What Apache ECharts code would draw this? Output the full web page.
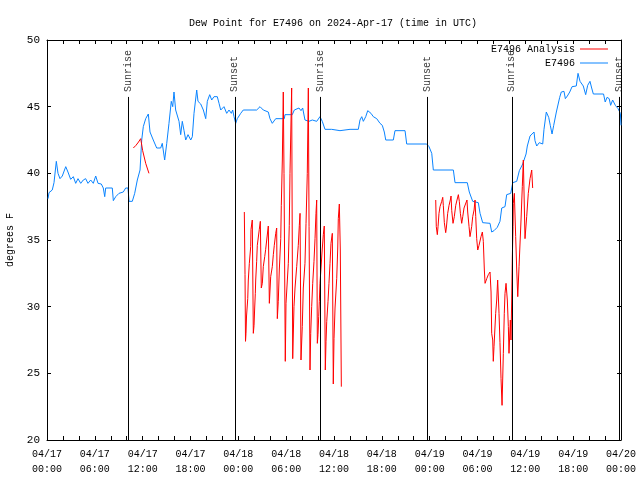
<!DOCTYPE html>
<html><head><meta charset="utf-8">
<script src="https://cdn.jsdelivr.net/npm/echarts@6/dist/echarts.min.js"></script>
<style>html,body{margin:0;padding:0;background:#fff}#c{width:640px;height:480px}</style>
</head><body><div id="c"></div>
<script>
const titleText = 'Dew Point for E7496 on 2024-Apr-17 (time in UTC)';
const yAxisName = 'degrees F';
const tickHours = [0, 6, 12, 18, 24, 30, 36, 42, 48, 54, 60, 66, 72];
const tickDays = ['04/17','04/17','04/17','04/17','04/18','04/18','04/18','04/18','04/19','04/19','04/19','04/19','04/20'];
const tickTimes = ['00:00','06:00','12:00','18:00','00:00','06:00','12:00','18:00','00:00','06:00','12:00','18:00','00:00'];

const sunHours = [10.16, 23.56, 34.3, 47.65, 58.3, 71.8];
const sunLabels = ['Sunrise', 'Sunset', 'Sunrise', 'Sunset', 'Sunrise', 'Sunset'];

// E7496 observations (hours since 04/17 00:00 UTC, degrees F)
const obsHours = [0.13,0.25,0.66,0.88,1.17,1.38,1.63,1.92,2.35,2.63,2.97,3.30,3.60,3.89,4.23,4.55,4.85,5.14,5.48,5.81,6.11,6.40,6.81,7.06,7.24,7.36,8.19,8.32,8.62,9.03,9.57,9.87,10.16,10.29,10.70,11.00,11.33,11.67,11.88,12.08,12.38,12.71,12.92,13.33,13.76,14.26,14.46,14.76,15.02,15.30,15.59,15.77,15.93,16.14,16.56,16.77,16.97,17.19,17.40,17.69,18.03,18.23,18.44,18.78,18.94,19.28,19.61,19.91,20.11,20.41,20.66,20.95,21.36,21.58,21.79,22.20,22.54,22.83,23.12,23.29,23.46,23.67,23.87,24.30,24.62,26.30,26.72,27.13,27.76,27.97,28.26,28.69,29.77,29.85,30.77,31.02,31.61,31.86,32.07,32.36,32.86,33.28,33.83,34.24,34.53,34.87,35.71,36.75,38.01,39.05,39.26,39.48,39.68,39.98,40.23,40.64,40.93,41.36,41.77,42.06,42.31,42.49,43.44,43.65,44.91,45.12,47.63,47.92,48.26,48.46,50.97,51.18,52.72,52.97,53.15,53.40,54.10,54.32,54.65,55.57,55.78,56.07,56.48,56.82,57.04,57.45,57.66,58.17,58.42,58.92,59.25,59.67,60.09,60.25,60.59,61.09,61.21,61.43,61.75,62.18,62.34,62.63,62.93,63.13,63.35,63.56,63.89,64.31,64.51,64.85,65.02,65.27,65.57,65.86,66.39,66.61,66.86,67.07,67.27,67.57,67.82,68.11,68.32,68.53,69.81,70.02,70.25,70.52,70.70,70.95,71.29,71.63,71.92,72.0];
const obsValues = [38.1,38.55,38.75,39.3,40.9,40.0,39.6,39.8,40.5,40.1,39.55,39.75,39.25,39.6,39.25,39.5,39.6,39.25,39.5,39.25,39.8,39.25,39.2,38.9,38.25,38.9,38.9,37.95,38.25,38.5,38.6,38.9,38.9,37.9,37.9,38.5,39.5,40.25,42.5,43.5,44.1,44.45,43.1,42.5,41.9,41.9,42.25,41.0,42.25,43.75,45.4,45.0,46.1,44.75,43.9,42.9,43.9,43.2,42.5,42.9,42.5,42.75,44.5,46.25,45.4,45.2,44.75,44.1,45.4,45.9,45.5,45.75,45.75,45.25,44.75,45.0,44.5,44.75,44.5,44.75,44.25,43.75,44.1,44.5,44.75,44.75,45.0,44.75,44.6,44.1,43.75,44.1,44.1,44.4,44.4,44.75,44.9,44.7,44.9,44.0,43.9,44.0,43.9,44.25,43.9,43.3,43.3,43.2,43.3,43.3,44.0,44.25,43.9,44.25,44.7,44.5,44.25,44.1,43.75,43.6,43.1,42.5,42.5,43.2,43.2,42.2,42.2,42.0,41.5,40.25,40.25,39.3,39.3,38.6,38.3,37.9,37.8,37.0,36.3,36.25,35.6,35.7,35.95,36.4,37.4,37.5,38.4,38.5,39.3,39.4,40.2,40.7,41.45,42.05,42.8,43.1,42.45,42.05,42.3,42.2,43.3,44.6,44.2,43.6,42.95,43.6,44.6,45.7,46.1,46.15,45.6,45.8,46.1,46.5,46.55,47.5,46.9,47.0,46.55,45.9,46.6,46.9,46.4,45.95,45.95,45.35,45.7,45.6,45.1,45.5,45.1,44.85,44.5,43.6];

// E7496 Analysis, three separate runs
const an1Hours = [10.83,11.16,11.48,11.75,12.00,12.38,12.79];
const an1Values = [41.9,42.1,42.35,42.6,41.7,40.75,40.0];
const an2Hours = [24.75,24.84,24.90,24.96,25.03,25.18,25.25,25.38,25.55,25.59,25.75,25.88,25.97,26.05,26.13,26.18,26.30,26.38,26.63,26.76,26.88,27.01,27.13,27.31,27.43,27.56,27.76,27.89,28.06,28.26,28.39,28.51,28.69,28.81,28.89,29.01,29.14,29.32,29.39,29.52,29.64,29.73,29.89,29.98,30.27,30.39,30.48,30.69,30.82,30.98,31.11,31.32,31.52,31.65,31.74,31.86,32.02,32.15,32.36,32.49,32.65,32.78,32.87,32.99,33.08,33.20,33.33,33.49,33.62,33.74,33.83,33.91,33.99,34.08,34.16,34.24,34.37,34.50,34.66,34.78,34.91,35.00,35.09,35.25,35.37,35.50,35.62,35.79,35.91,36.00,36.13,36.34,36.47,36.54,36.67,36.79,36.92];
const an2Values = [37.1,32.4,27.4,28.0,29.3,30.6,32.0,33.25,34.5,35.8,36.5,28.0,28.6,29.9,31.0,32.0,33.4,34.6,35.8,36.4,31.4,31.75,33.0,33.75,34.3,35.0,36.05,30.25,32.25,33.0,33.9,34.6,35.5,35.9,29.1,30.4,32.75,35.1,37.6,41.0,46.1,40.0,25.9,30.25,33.25,36.1,40.0,46.4,26.1,30.0,31.4,33.0,34.6,36.1,37.0,26.0,28.5,31.4,33.25,36.25,40.0,46.4,36.0,25.25,28.0,30.0,31.75,33.4,35.1,37.0,38.0,27.25,27.9,29.25,30.4,31.75,32.9,34.1,35.4,36.05,25.25,27.4,28.9,30.4,31.75,33.25,34.75,35.5,24.2,27.6,29.9,32.1,34.4,36.6,37.7,34.25,24.0];
const an3Hours = [48.76,48.83,48.96,49.05,49.17,49.30,49.51,49.64,49.71,49.84,50.01,50.09,50.26,50.43,50.59,50.68,50.77,50.93,51.09,51.27,51.43,51.60,51.72,51.85,52.02,52.15,52.31,52.52,52.68,52.77,52.94,53.06,53.27,53.40,53.57,53.69,53.78,53.90,54.03,54.19,54.44,54.61,54.73,54.86,54.95,55.16,55.36,55.57,55.70,55.78,55.91,55.98,56.07,56.28,56.41,56.53,56.70,56.82,56.95,57.08,57.24,57.36,57.45,57.58,57.74,57.87,57.95,58.12,58.20,58.29,58.37,58.46,58.49,58.62,58.79,58.92,59.05,59.21,59.46,59.62,59.75,59.96,60.17,60.37,60.59,60.80,60.92];
const an3Values = [38.0,36.0,35.4,36.0,37.0,37.5,37.9,38.2,37.6,36.3,35.55,35.9,37.0,37.6,38.0,38.3,37.2,36.25,36.75,37.6,38.0,38.4,37.9,37.0,36.25,36.75,37.4,37.5,38.0,37.1,36.0,35.25,36.0,36.75,37.25,38.0,36.75,35.1,34.25,34.6,35.25,35.6,34.9,32.75,31.75,32.1,32.4,32.6,31.1,28.0,27.5,25.9,27.0,29.5,30.5,32.0,29.5,27.3,24.6,22.6,26.5,29.5,31.0,31.75,30.5,28.5,26.5,29.0,27.5,30.5,33.75,36.0,37.75,38.5,35.25,32.75,30.75,33.0,36.5,39.0,41.0,35.1,36.75,38.5,39.6,40.25,38.9];

const FONT = 'Liberation Mono';
const RED = '#ff0000';
const BLUE = '#0a84ff';
const pairs = (hs, vs) => hs.map((h, i) => [h, vs[i]]);

const chart = echarts.init(document.getElementById('c'), null, {renderer: 'canvas'});
const axisCommon = {
  type: 'value', min: 0, max: 72, interval: 2,
  splitLine: {show: false},
  axisLine: {onZero: false, lineStyle: {color: '#000', width: 1}},
  axisTick: {inside: true, length: 4, lineStyle: {color: '#000'}}
};
const analysisSeries = [pairs(an1Hours, an1Values), pairs(an2Hours, an2Values), pairs(an3Hours, an3Values)].map(d => ({
  name: 'E7496 Analysis', type: 'line', data: d, color: RED, symbol: 'none', showSymbol: false,
  lineStyle: {color: RED, width: 1}, z: 4, animation: false
}));
chart.setOption({
  animation: false,
  backgroundColor: '#fff',
  title: {
    text: titleText, left: 328, top: 13, textAlign: 'center',
    textStyle: {fontFamily: FONT, fontSize: 10, fontWeight: 'normal', color: '#000'}
  },
  legend: {
    data: ['E7496 Analysis', 'E7496'], orient: 'vertical', right: 27, top: 38, align: 'right',
    icon: 'rect', itemWidth: 28, itemHeight: 1, itemGap: 2,
    textStyle: {fontFamily: FONT, fontSize: 10, color: '#000', lineHeight: 12}
  },
  grid: {left: 47, right: 19, top: 40, bottom: 40, containLabel: false, outerBoundsMode: 'none'},
  xAxis: [
    Object.assign({}, axisCommon, {
      position: 'bottom',
      axisLabel: {
        margin: 7, lineHeight: 15, fontFamily: FONT, fontSize: 10, color: '#000',
        formatter: v => { const i = tickHours.indexOf(v); return i < 0 ? '' : tickDays[i] + '\n' + tickTimes[i]; }
      }
    }),
    Object.assign({}, axisCommon, {position: 'top', axisLabel: {show: false}})
  ],
  yAxis: [
    {type: 'value', min: 20, max: 50, interval: 5, position: 'left',
     name: yAxisName, nameLocation: 'middle', nameGap: 32, nameRotate: 90,
     nameTextStyle: {fontFamily: FONT, fontSize: 10, color: '#000'},
     splitLine: {show: false}, axisLine: {show: true, onZero: false, lineStyle: {color: '#000'}},
     axisTick: {inside: true, length: 4, lineStyle: {color: '#000'}},
     axisLabel: {margin: 7, fontFamily: FONT, fontSize: 11, color: '#000'}},
    {type: 'value', min: 20, max: 50, interval: 5, position: 'right',
     splitLine: {show: false}, axisLine: {show: true, onZero: false, lineStyle: {color: '#000'}},
     axisTick: {inside: true, length: 4, lineStyle: {color: '#000'}}, axisLabel: {show: false}}
  ],
  series: [
    {
      name: 'E7496', type: 'line', data: pairs(obsHours, obsValues), color: BLUE,
      symbol: 'none', showSymbol: false, lineStyle: {color: BLUE, width: 1}, z: 3,
      markLine: {
        silent: true, symbol: ['none', 'none'], animation: false,
        label: {show: false}, lineStyle: {color: '#000', width: 1, type: 'solid'},
        data: sunHours.map(h => [{coord: [h, 20]}, {coord: [h, 45.73]}])
      }
    },
    ...analysisSeries,
    {
      name: 'sun', type: 'scatter', symbolSize: 0, silent: true,
      data: sunHours.map(h => [h, 46.1]),
      label: {
        show: true, position: 'inside', rotate: 90, align: 'left', verticalAlign: 'middle',
        formatter: p => sunLabels[p.dataIndex], fontFamily: FONT, fontSize: 10, color: '#000'
      }
    }
  ]
});
</script></body></html>
